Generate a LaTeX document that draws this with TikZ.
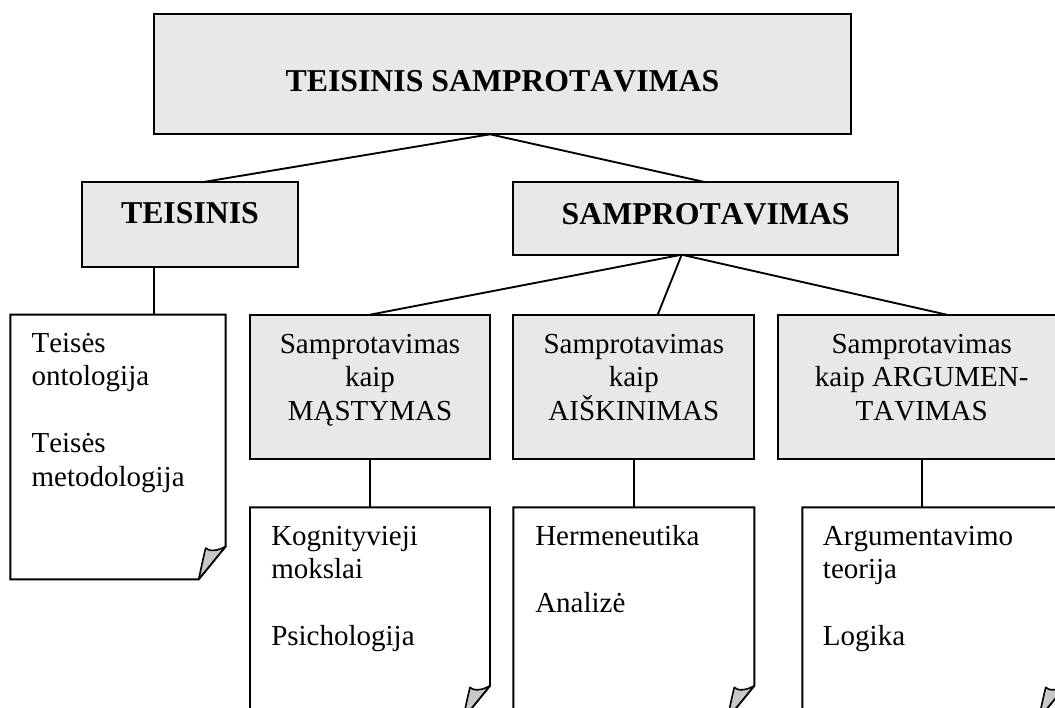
\documentclass[tikz,border=0pt]{standalone}
\usepackage{fontspec}
\setmainfont{Liberation Serif}[Kerning=Off]
\usetikzlibrary{calc}
\definecolor{boxgray}{RGB}{232,232,232}
\definecolor{foldgray}{RGB}{200,200,200}
\tikzset{
  sz/.style 2 args={minimum width=#1*0.75pt, minimum height=#2*0.75pt},
  graybox/.style={draw, fill=boxgray, line width=1.45pt, inner sep=0pt, outer sep=0pt, anchor=north west},
  docbox/.style={inner sep=0pt, outer sep=0pt, anchor=north west},
  docline/.style={line width=1.45pt, fill=white, line join=miter},
  fold/.style={line width=1.2pt, fill=foldgray, line join=round},
  conn/.style={line width=1.4pt},
  boldtxt/.style={font=\fontsize{23.85}{28}\selectfont\bfseries, anchor=base, inner sep=0pt},
  ctxt/.style={font=\fontsize{21.75}{25}\selectfont, anchor=base, inner sep=0pt},
  ltxt/.style={font=\fontsize{21.75}{25}\selectfont, anchor=base west, inner sep=0pt},
}
\begin{document}
\begin{tikzpicture}[x=0.75pt, y=-0.75pt]
\useasboundingbox (0,0) rectangle (1055,707);
\clip (0,0) rectangle (1055,707);

% gray boxes
\node[graybox, sz={697}{120.3}] (top) at (153.7,14) {};
\node[graybox, sz={216}{85}] (teis) at (81.7,182.3) {};
\node[graybox, sz={385}{72.4}] (samp) at (513.3,182.3) {};
\node[graybox, sz={240}{144.6}] (mast) at (250,314.7) {};
\node[graybox, sz={241}{144.6}] (aisk) at (513.3,314.7) {};
\node[graybox, sz={288}{144.6}] (arg) at (777.7,314.7) {};

% document boxes (named frames)
\node[docbox, sz={215.4}{264.6}] (doca) at (10.3,314.7) {};
\node[docbox, sz={240}{211.4}] (docb) at (250,507.3) {};
\node[docbox, sz={241}{211.4}] (docc) at (513.3,507.3) {};
\node[docbox, sz={263.4}{211.4}] (docd) at (802.3,507.3) {};

\foreach \d in {doca,docb,docc,docd}{
  \draw[docline] (\d.north west) -- (\d.north east) -- ($(\d.south east)+(0,-33)$)
     -- ($(\d.south east)+(-27,0)$) -- (\d.south west) -- cycle;
  \draw[fold] ($(\d.south east)+(-27,0)$) .. controls +(3,-14) and +(-2,8) .. ($(\d.south east)+(-20,-31.3)$)
     .. controls +(3,3.5) and +(-8,5) .. ($(\d.south east)+(0,-33)$) -- cycle;
}

% connectors
\coordinate (ts) at ($(top.south)+(-12.2,0)$);
\draw[conn] (ts) -- ($(teis.north)+(12,0)$);
\draw[conn] (ts) -- (samp.north);
\coordinate (tb) at ($(teis.south)+(-36,0)$);
\draw[conn] (tb) -- (tb |- doca.north);
\coordinate (ss) at ($(samp.south)+(-24.1,0)$);
\draw[conn] (ss) -- (mast.north);
\draw[conn] (ss) -- ($(aisk.north)+(23.9,0)$);
\draw[conn] (ss) -- ($(arg.north)+(25,0)$);
\draw[conn] (mast.south) -- (mast.south |- docb.north);
\draw[conn] (aisk.south) -- (aisk.south |- docc.north);
\draw[conn] (arg.south) -- (arg.south |- docd.north);

% bold titles
\node[boldtxt] (ttop) at (502.5,91.7) {TEISINIS SAMPROTAVIMAS};
\node[boldtxt] (tteis) at (190,223) {TEISINIS};
\node[boldtxt] (tsamp) at (705.7,224) {SAMPROTAVIMAS};

% gray box texts
\node[ctxt] (m1) at (370,353.3) {Samprotavimas};
\node[ctxt] (m2) at (370,386.7) {kaip};
\node[ctxt] (m3) at (370,420.7) {MĄSTYMAS};
\node[ctxt] (a1) at (633.8,353.3) {Samprotavimas};
\node[ctxt] (a2) at (633.8,386.7) {kaip};
\node[ctxt] (a3) at (633.8,420.7) {AIŠKINIMAS};
\node[ctxt] (r1) at (921.7,353.3) {Samprotavimas};
\node[ctxt] (r2) at (921.7,386.7) {kaip ARGUMEN-};
\node[ctxt] (r3) at (921.7,420.7) {TAVIMAS};

% document texts
\node[ltxt] (d11) at (31.3,352.4) {Teisės};
\node[ltxt] (d12) at (31.3,385.9) {ontologija};
\node[ltxt] (d13) at (31.3,452.9) {Teisės};
\node[ltxt] (d14) at (31.3,486.4) {metodologija};
\node[ltxt] (d21) at (271,545) {Kognityvieji};
\node[ltxt] (d22) at (271,578.5) {mokslai};
\node[ltxt] (d23) at (271,645.5) {Psichologija};
\node[ltxt] (d31) at (535,545) {Hermeneutika};
\node[ltxt] (d32) at (535,612.3) {Analizė};
\node[ltxt] (d41) at (822.7,545) {Argumentavimo};
\node[ltxt] (d42) at (822.7,578.5) {teorija};
\node[ltxt] (d43) at (822.7,645.5) {Logika};
\end{tikzpicture}
\end{document}
